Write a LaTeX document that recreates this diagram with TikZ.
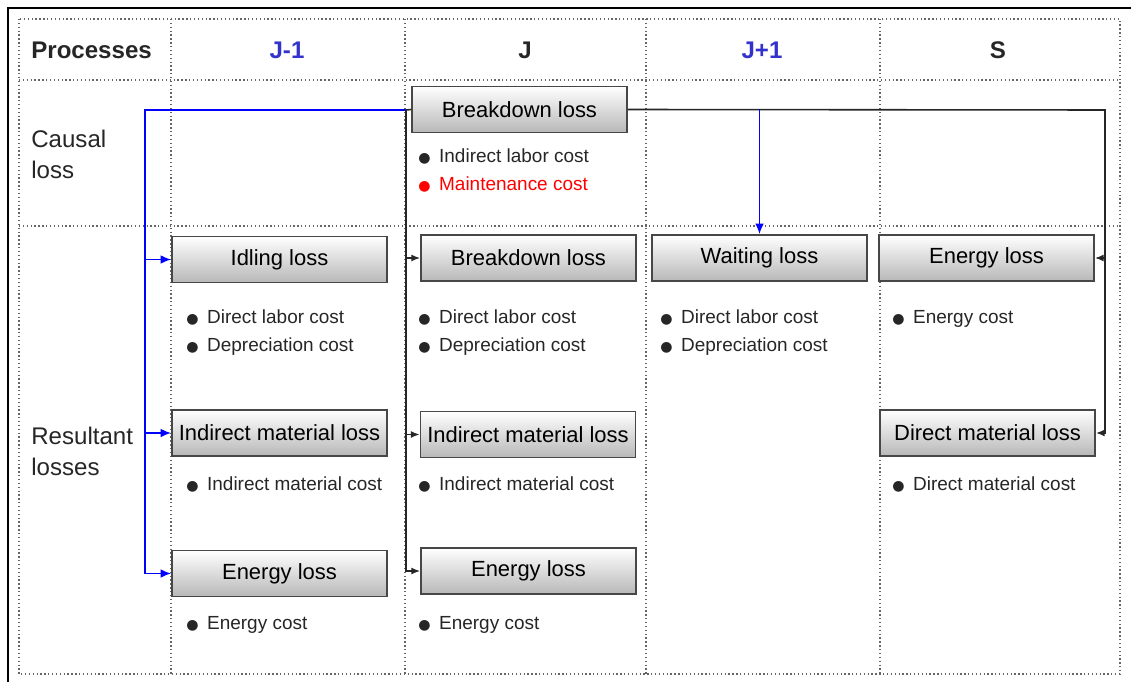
\documentclass[tikz,border=0pt]{standalone}
\usepackage{fontspec}
\setmainfont{Liberation Sans}
\newfontfamily\dejavu{DejaVu Sans}
\usepackage{tikz}
\usetikzlibrary{arrows.meta}

\definecolor{headblue}{RGB}{51,51,204}
\newcommand{\costdot}{{\dejavu\fontsize{8}{8}\selectfont ●}\hspace{0.45em}}

\begin{document}
\begin{tikzpicture}[
                x=0.02cm, y=-0.02cm, % one unit is one pixel of the reference
                grid/.style={black!60, line width=0.75pt, dash pattern=on 0.75pt off 1.45pt}, % dotted table lines
                lossbox/.style={draw=black!72, line width=1pt, top color=white, bottom color=black!28, minimum width=4.3cm, minimum height=0.92cm, inner sep=1pt, font=\fontsize{12.5}{14}\selectfont}, % grey loss boxes
                costline/.style={anchor=west, inner sep=0pt, text height=1.6ex, text depth=0.4ex, text=black!85, font=\fontsize{10.8}{13}\selectfont}, % bullet lines
                header/.style={font=\fontsize{13.7}{16}\selectfont\bfseries, text=black!85}, % column titles
                rowlabel/.style={anchor=west, align=left, text=black!85, inner sep=0pt, font=\fontsize{13.7}{17.6}\selectfont}, % row titles
                blueline/.style={draw=blue, line width=1pt, -{Latex[length=6pt,width=5pt]}}, % blue connectors
                blackline/.style={draw=black!85, line width=0.9pt, -{Latex[length=5pt,width=4pt]}} % black connectors
                ]
                \useasboundingbox (0,0) rectangle (1131,682);
                \draw[line width=1.6pt] (8,682) -- (8,8) -- (1131,8);

                % table
                \draw[grid] (19,19) rectangle (1120,674);
                \draw[grid] (19,80) -- (1120,80);
                \draw[grid] (19,226) -- (1120,226);
                \draw[grid] (171,19) -- (171,674);
                \draw[grid] (405,19) -- (405,674);
                \draw[grid] (646,19) -- (646,674);
                \draw[grid] (880,19) -- (880,674);

                % headers
                \node[header, anchor=west, inner sep=0pt] (proc) at (31,50) {Processes};
                \node[header, text=headblue] (jm) at (287,50) {J-1};
                \node[header] (j) at (525,50) {J};
                \node[header, text=headblue] (jp) at (762,50) {J+1};
                \node[header] (s) at (998,50) {S};
                \node[rowlabel] (causal) at (31,154) {Causal\\loss};
                \node[rowlabel] (result) at (31,451) {Resultant\\losses};

                % loss boxes
                \node[lossbox] (bdtop) at (519.5,109.5) {Breakdown loss};
                \node[lossbox] (idle) at (279.5,259.5) {Idling loss};
                \node[lossbox] (bdj) at (528.5,258) {Breakdown loss};
                \node[lossbox] (wait) at (759.5,258) {Waiting loss};
                \node[lossbox] (ens) at (986.5,258) {Energy loss};
                \node[lossbox] (imjm) at (279.5,433) {Indirect material loss};
                \node[lossbox] (imj) at (528,434.5) {Indirect material loss};
                \node[lossbox] (dms) at (987.5,433) {Direct material loss};
                \node[lossbox] (enjm) at (279.5,573.5) {Energy loss};
                \node[lossbox] (enj) at (528.5,571) {Energy loss};

                % costs
                \node[costline] (c1) at (418,157) {\costdot Indirect labor cost};
                \node[costline, text=red] (c2) at (418,185) {\costdot Maintenance cost};
                \node[costline] (c3) at (186,318) {\costdot Direct labor cost};
                \node[costline] (c4) at (186,346) {\costdot Depreciation cost};
                \node[costline] (c5) at (418,318) {\costdot Direct labor cost};
                \node[costline] (c6) at (418,346) {\costdot Depreciation cost};
                \node[costline] (c7) at (660,318) {\costdot Direct labor cost};
                \node[costline] (c8) at (660,346) {\costdot Depreciation cost};
                \node[costline] (c9) at (892,318) {\costdot Energy cost};
                \node[costline] (c10) at (186,485) {\costdot Indirect material cost};
                \node[costline] (c11) at (418,485) {\costdot Indirect material cost};
                \node[costline] (c12) at (892,485) {\costdot Direct material cost};
                \node[costline] (c13) at (186,624) {\costdot Energy cost};
                \node[costline] (c14) at (418,624) {\costdot Energy cost};

                % connectors
                \coordinate (bl) at (145,110);
                \coordinate (jl) at (406,110);
                \coordinate (sr) at (1105,110);
                \draw[blueline] (jl) -- (bl) |- (idle.west);
                \draw[blueline] (bl) |- (imjm.west);
                \draw[blueline] (bl) |- (enjm.west);
                \draw[blackline] (bdtop.west) -- (jl) |- (bdj.west);
                \draw[blackline] (jl) |- (imj.west);
                \draw[blackline] (jl) |- (enj.west);
                \draw[blackline] (bdtop.east) -- (sr) |- (ens.east);
                \draw[blackline] (sr) |- (dms.east);
                \draw[blueline] (bdtop.east -| wait.north) -- (wait.north);
            \end{tikzpicture}
\end{document}
